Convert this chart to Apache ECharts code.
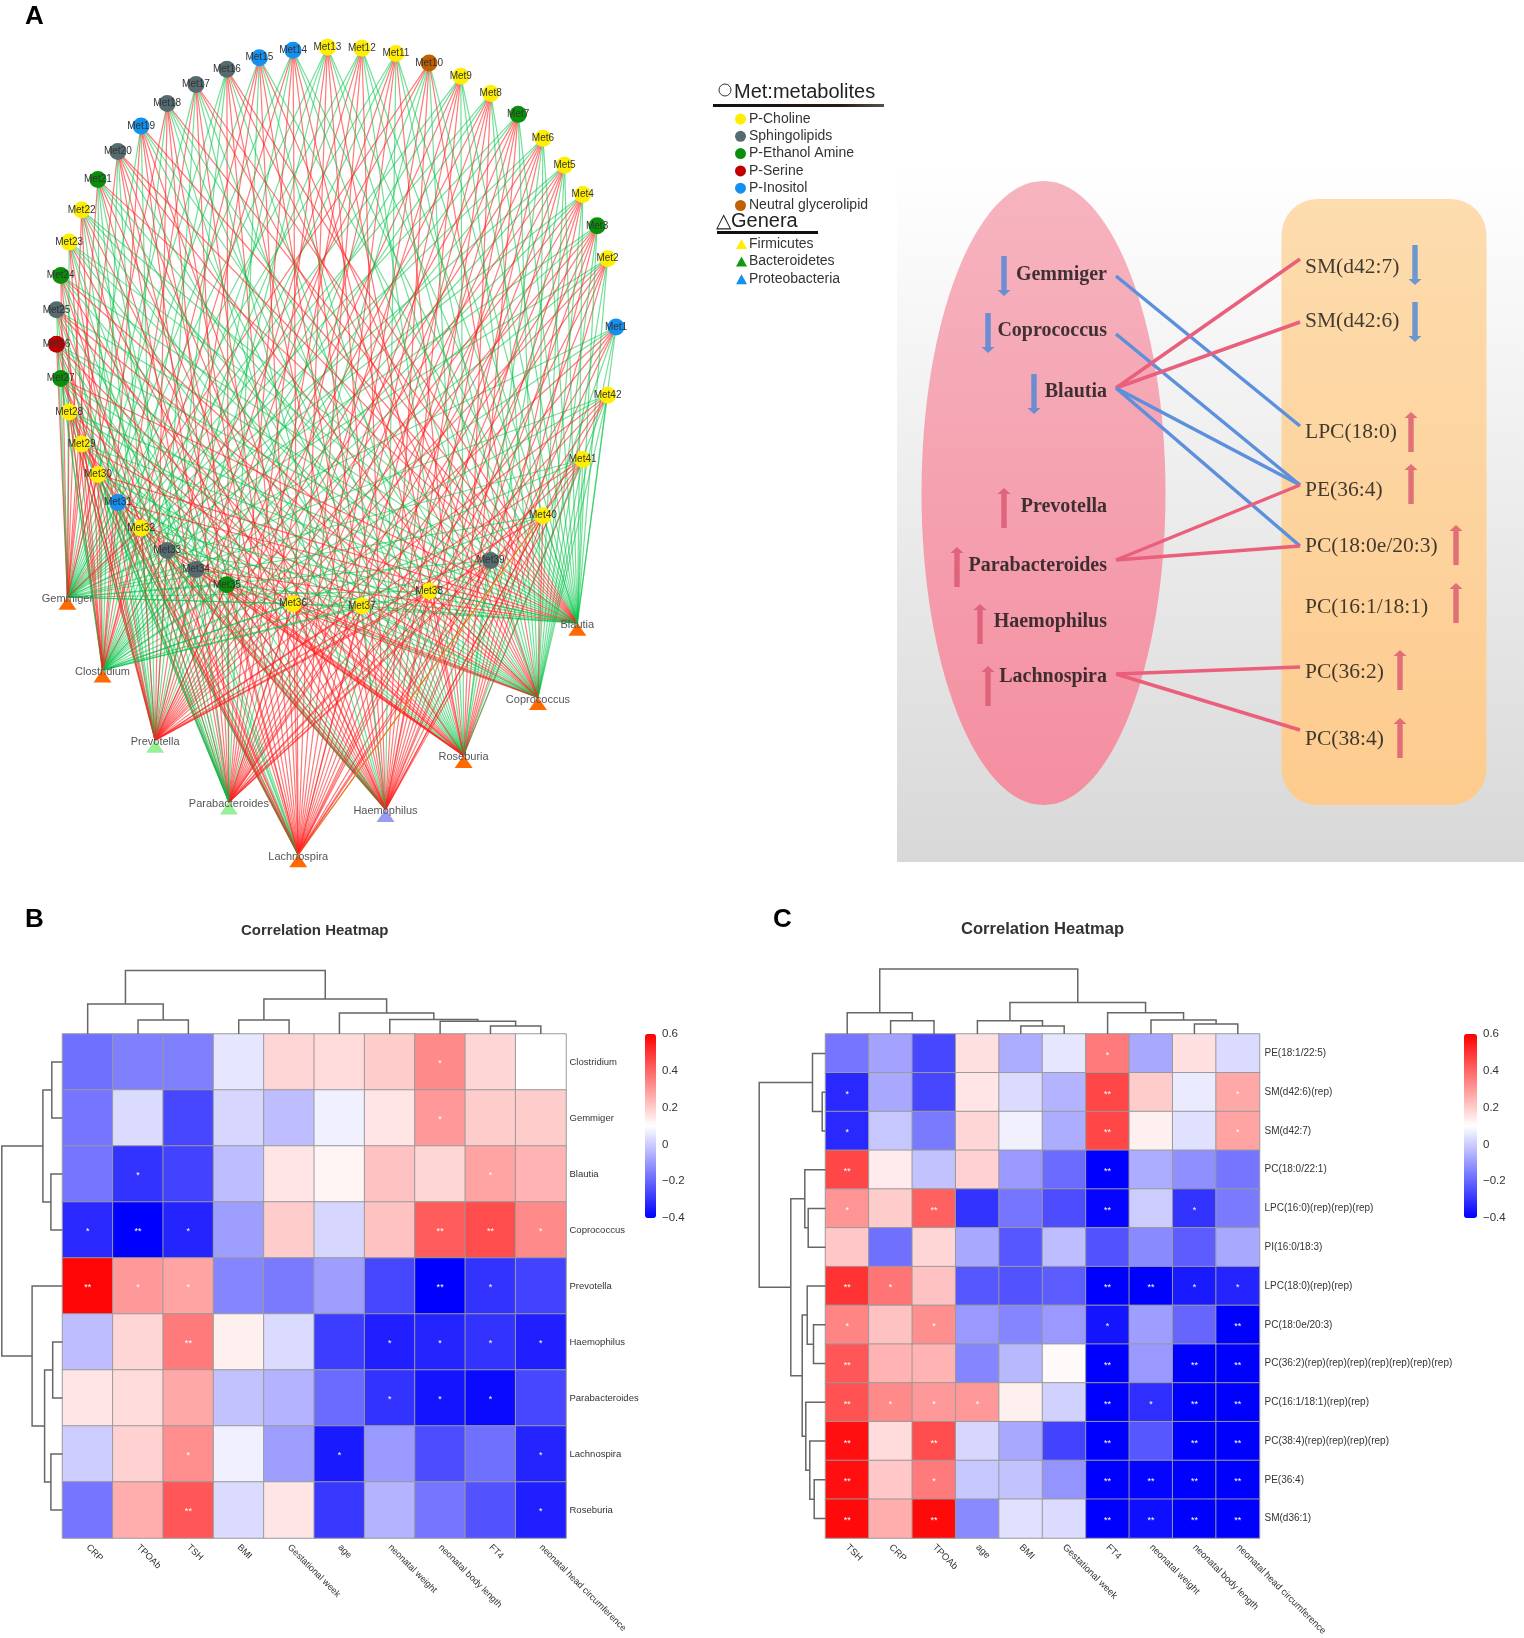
<!DOCTYPE html>
<html><head><meta charset="utf-8">
<style>html,body{margin:0;padding:0;background:#fff}#c{width:1524px;height:1638px;filter:blur(0.5px)}</style>
<script src="https://cdn.jsdelivr.net/npm/echarts@6/dist/echarts.min.js"></script>
</head><body><div id="c"></div>
<script>
/* ---------- Panel A: network ---------- */
const metClasses=['P-Choline','Sphingolipids','P-Ethanol Amine','P-Serine','P-Inositol','Neutral glycerolipid'];
const genusClasses=['Firmicutes','Bacteroidetes','Proteobacteria'];
// class of Met1..Met42 (index into metClasses)
const metClassOf=[4,0,2,0,0,0,2,0,0,5,0,0,0,4,4,1,1,1,4,1,2,0,0,2,1,3,2,0,0,0,4,0,1,1,2,0,0,0,1,0,0,0];
// ring slot of Met1..Met42 on a 51 slot ring
const metSlot=[0,2,3,4,5,6,7,8,9,10,11,12,13,14,15,16,17,18,19,20,21,22,23,24,25,26,27,28,29,30,31,32,33,34,35,37,39,41,43,45,47,49];
const metRadius=280;
const genera=['Gemmiger','Clostridium','Prevotella','Parabacteroides','Lachnospira','Haemophilus','Roseburia','Coprococcus','Blautia'];
const genusClassOf=[0,0,1,1,0,2,0,0,0];
const genusSlot=[31.9,33.4,34.9,36.45,37.67,39.08,40.6,42.3,43.8];
const genusRadius=[381,415,451,487,529,485,447,422,382];
// one string per metabolite, one letter per genus (order of genera): r positive, g negative, y other
const metEdges=["ggrrrrggg","ggrrrrrgg","ggrrrrrgg","ggrrrrrgg","ggrrrrggg","ggrrrrggg","ggrrrrrgg","ggrrrrrgg","ggrrrrggg","rrggrrgrg",
"ggrrrgrgg","ggrrrrggg","gggrrrrgg","grgrrrrgg","grrgrrgrg","gggrrrgrr","grgrrggrr","rgrrrgggr","grgrrrggr","rggrrrgrr",
"rgggrrggr","rrgrgrggg","grrggrggg","rrgrgrgrg","ggrgrgrrg","rgrgrgrgg","gggrrgrgr","rrrgrgrgg","rrrgrrgrg","rrrggrggr",
"grggrgrgr","rrrggrrgg","ggrgrgrrg","ggrggrrgr","ggrgrrrrg","ggrrrrrrg","ggrrrgrgg","ggrrrrrrg","ggrrrrgrr","ggrryrrrg","ggrrrrrgg","ggrrrrggg"];

/* ---------- Panel A: schematic ---------- */
const schemGenera=['Gemmiger','Coprococcus','Blautia','Prevotella','Parabacteroides','Haemophilus','Lachnospira'];
const schemGenusY=[275,331,392,507,566,622,677];
const schemGenusArrowX=[1004,988,1034,1004,957,980,988];
const schemGenusArrowY=[276,333,394,508,567,624,686];
const schemGenusDir=['d','d','d','u','u','u','u'];
const schemMets=['SM(d42:7)','SM(d42:6)','LPC(18:0)','PE(36:4)','PC(18:0e/20:3)','PC(16:1/18:1)','PC(36:2)','PC(38:4)'];
const schemMetY=[267,321,432,490,546,607,672,739];
const schemMetArrowX=[1415,1415,1411,1411,1456,1456,1400,1400];
const schemMetArrowY=[265,322,432,484,545,603,670,738];
const schemMetDir=['d','d','u','u','u','u','u','u'];
const schemLinks=[['Gemmiger','LPC(18:0)','b'],['Coprococcus','PE(36:4)','b'],['Blautia','SM(d42:7)','r'],['Blautia','SM(d42:6)','r'],
['Blautia','PE(36:4)','b'],['Blautia','PC(18:0e/20:3)','b'],['Parabacteroides','PE(36:4)','r'],['Parabacteroides','PC(18:0e/20:3)','r'],
['Lachnospira','PC(36:2)','r'],['Lachnospira','PC(38:4)','r']];
const genusAnchorY={Gemmiger:276,Coprococcus:334,Blautia:388,Parabacteroides:560,Lachnospira:674};
const metAnchorY={'SM(d42:7)':259,'SM(d42:6)':322,'LPC(18:0)':426,'PE(36:4)':485,'PC(18:0e/20:3)':546,'PC(36:2)':667,'PC(38:4)':730};

/* ---------- Panel B ---------- */
const colsB=['CRP','TPOAb','TSH','BMI','Gestational week','age','neonatal weight','neonatal body length','FT4','neonatal head circumference'];
const rowsB=['Clostridium','Gemmiger','Blautia','Coprococcus','Prevotella','Haemophilus','Parabacteroides','Lachnospira','Roseburia'];
const valsB=[
[-.18,-.15,-.15,.05,.18,.17,.2,.33,.18,.1],
[-.17,.03,-.26,.02,-.03,.07,.15,.3,.2,.2],
[-.17,-.3,-.27,-.03,.15,.12,.22,.18,.28,.25],
[-.32,-.4,-.33,-.09,.2,.02,.22,.42,.45,.33],
[.59,.3,.28,-.14,-.16,-.09,-.26,-.4,-.3,-.27],
[-.03,.18,.36,.13,.03,-.28,-.34,-.33,-.3,-.34],
[.15,.17,.27,-.02,-.05,-.19,-.3,-.36,-.38,-.26],
[0,.19,.32,.07,-.09,-.35,-.1,-.25,-.18,-.33],
[-.17,.26,.43,.03,.15,-.29,-.05,-.17,-.24,-.34]];
const sigB=[
['','','','','','','','*','',''],
['','','','','','','','*','',''],
['','*','','','','','','','*',''],
['*','**','*','','','','','**','**','*'],
['**','*','*','','','','','**','*',''],
['','','**','','','','*','*','*','*'],
['','','','','','','*','*','*',''],
['','','*','','','*','','','','*'],
['','','**','','','','','','','*']];
const topMergesB=[[1,2,14],[0,-1,30],[3,4,14],[8,9,8],[7,-4,12.7],[6,-5,14.4],[5,-6,21],[-3,-7,35],[-2,-8,63.5]];
const leftMergesB=[[0,1,10.7],[2,3,11.6],[-1,-2,19.6],[5,6,9.8],[7,8,11.6],[-4,-5,17.9],[4,-6,30.4],[-3,-7,60.7]];

/* ---------- Panel C ---------- */
const colsC=['TSH','CRP','TPOAb','age','BMI','Gestational week','FT4','neonatal weight','neonatal body length','neonatal head circumference'];
const rowsC=['PE(18:1/22:5)','SM(d42:6)(rep)','SM(d42:7)','PC(18:0/22:1)','LPC(16:0)(rep)(rep)(rep)','PI(16:0/18:3)','LPC(18:0)(rep)(rep)','PC(18:0e/20:3)','PC(36:2)(rep)(rep)(rep)(rep)(rep)(rep)(rep)','PC(16:1/18:1)(rep)(rep)','PC(38:4)(rep)(rep)(rep)(rep)','PE(36:4)','SM(d36:1)'];
const valsC=[
[-.17,-.08,-.26,.16,-.06,.05,.36,-.07,.16,.03],
[-.32,-.07,-.26,.15,.03,-.05,.46,.2,.06,.27],
[-.32,-.01,-.16,.18,.07,-.06,.46,.13,.04,.28],
[.46,.14,-.02,.19,-.1,-.19,-.4,-.06,-.12,-.17],
[.31,.2,.41,-.3,-.17,-.25,-.39,0,-.3,-.16],
[.21,-.18,.18,-.07,-.23,-.03,-.24,-.13,-.22,-.07],
[.5,.37,.22,-.23,-.24,-.22,-.4,-.4,-.35,-.33],
[.34,.22,.32,-.1,-.14,-.1,-.36,-.09,-.2,-.4],
[.43,.25,.25,-.14,-.04,.11,-.4,-.1,-.4,-.4],
[.44,.33,.3,.3,.13,.01,-.4,-.31,-.4,-.4],
[.57,.17,.45,.02,-.07,-.27,-.4,-.23,-.4,-.4],
[.57,.21,.36,-.01,-.02,-.11,-.4,-.39,-.4,-.4],
[.58,.26,.58,-.13,.04,.03,-.4,-.37,-.4,-.4]];
const sigC=[
['','','','','','','*','','',''],
['*','','','','','','**','','','*'],
['*','','','','','','**','','','*'],
['**','','','','','','**','','',''],
['*','','**','','','','**','','*',''],
['','','','','','','','','',''],
['**','*','','','','','**','**','*','*'],
['*','','*','','','','*','','','**'],
['**','','','','','','**','','**','**'],
['**','*','*','*','','','**','*','**','**'],
['**','','**','','','','**','','**','**'],
['**','','*','','','','**','**','**','**'],
['**','','**','','','','**','**','**','**']];
const topMergesC=[[1,2,13.2],[0,-1,21.2],[4,5,8],[3,-3,13.2],[8,9,9.9],[7,-5,14.1],[6,-6,21.2],[-4,-7,31.5],[-2,-8,65]];
const leftMergesC=[[1,2,3.3],[0,-1,13],[4,5,17.3],[3,-3,20.7],[7,8,12],[6,-5,18.3],[11,12,11.3],[10,-7,15.7],[9,-8,19.7],[-6,-9,23.3],[-4,-10,34.7],[-2,-11,66.3]];

const colorbarTicks={min:-0.4,max:0.6,step:0.2};

/* ---------- helpers ---------- */
function dendro(merges,horizontal){
  const pos=[],hs=[],out=[];
  const ref=n=>n>=0?{p:n+.5,h:0}:{p:pos[-n-1],h:hs[-n-1]};
  merges.forEach(m=>{
    const a=ref(m[0]),b=ref(m[1]),H=m[2];
    pos.push((a.p+b.p)/2);hs.push(H);
    const pts=[[a.p,a.h],[a.p,H],[b.p,H],[b.p,b.h]];
    out.push({coords:horizontal?pts.map(q=>[q[1],q[0]]):pts});
  });
  return out;
}
function heat(vals){const d=[];vals.forEach((r,y)=>r.forEach((v,x)=>d.push([x,y,v])));return d;}

const FONT='"Liberation Sans",Arial,sans-serif';
const SERIF='"Liberation Serif","Times New Roman",serif';
const catColor=['#ffee00','#566b70','#0a8f0a','#c00000','#1490f0','#c06000','#ff6a00','#96f096','#9a9af0'];
const legendColor={'Firmicutes':'#ffee00','Bacteroidetes':'#109a10','Proteobacteria':'#1490f0'};

/* network nodes + links */
const nodes=[];
metSlot.forEach((s,i)=>nodes.push({name:'Met'+(i+1),value:[metRadius,s],category:metClassOf[i],symbol:'circle',symbolSize:17,
  label:{show:true,position:'inside',fontSize:10,color:'#333',fontFamily:FONT}}));
genera.forEach((g,i)=>nodes.push({name:g,value:[genusRadius[i],genusSlot[i]],category:6+genusClassOf[i],symbol:'triangle',symbolSize:[18,13],symbolOffset:[0,6],
  label:{show:true,position:'inside',fontSize:11,color:'#555',fontFamily:FONT,offset:[0,-4]}}));
const edgeColor={r:'rgba(255,30,30,0.6)',g:'rgba(0,195,70,0.55)',y:'rgba(215,230,60,0.95)'};
const links=[];
metEdges.forEach((s,i)=>{for(let k=0;k<genera.length;k++)links.push({source:'Met'+(i+1),target:genera[k],lineStyle:{color:edgeColor[s[k]],width:1.2,opacity:1}});});

const UP='path://M6,0 L12,6 L8.5,6 L8.5,40 L3.5,40 L3.5,6 L0,6 Z';

function heatSeries(name,vals,sig,g){
  return {type:'heatmap',name,xAxisIndex:g,yAxisIndex:g,data:heat(vals),silent:true,
    itemStyle:{borderColor:'#9a9a9a',borderWidth:1},
    label:{show:true,color:'#fff',fontSize:9,fontFamily:FONT,offset:[0,2],formatter:p=>sig[p.data[1]][p.data[0]]}};
}
function dendroSeries(merges,horizontal,g){
  return {type:'lines',coordinateSystem:'cartesian2d',xAxisIndex:g,yAxisIndex:g,polyline:true,silent:true,
    lineStyle:{color:'#666',width:1.5,opacity:1},data:dendro(merges,horizontal)};
}
const hiddenX=(g,o)=>Object.assign({type:'value',gridIndex:g,show:false},o);
const hiddenY=(g,o)=>Object.assign({type:'value',gridIndex:g,show:false},o);
const catX=(g,d,fs)=>({type:'category',gridIndex:g,data:d,position:'bottom',axisTick:{show:false},axisLine:{show:false},splitLine:{show:false},
  axisLabel:{rotate:-45,interval:0,fontSize:fs,color:'#333',fontFamily:FONT,margin:8}});
const catY=(g,d,fs,m)=>({type:'category',gridIndex:g,data:d,position:'right',inverse:true,axisTick:{show:false},axisLine:{show:false},splitLine:{show:false},
  axisLabel:{interval:0,fontSize:fs,color:'#333',fontFamily:FONT,margin:m}});
const barY=g=>({type:'value',gridIndex:g,position:'right',min:colorbarTicks.min,max:colorbarTicks.max,interval:colorbarTicks.step,
  axisLine:{show:false},axisTick:{show:false},splitLine:{show:false},
  axisLabel:{fontSize:11.5,color:'#333',fontFamily:FONT,margin:6,formatter:v=>{const t=Math.round(v*10)/10;return t<0?'\u2212'+Math.abs(t):String(t);}}});

const titleText=(text,left,top,size,weight,color)=>({text,left,top,padding:0,textStyle:{fontSize:size,fontWeight:weight,color:color||'#000',fontFamily:FONT}});
const gridBox=(left,top,width,height)=>({left,top,width,height,outerBoundsMode:'none',containLabel:false});

const option={
  animation:false,backgroundColor:'#fff',
  title:[
    titleText('A',25,4,26,'bold'),titleText('B',25,907,26,'bold'),titleText('C',773,907,26,'bold'),
    titleText('Correlation Heatmap',241,923,15,'bold','#333'),titleText('Correlation Heatmap',961,921,16.6,'bold','#333'),
    titleText('Met:metabolites',734,82,20,'normal','#222'),titleText('\u25B3Genera',716,211,20,'normal','#222')
  ],
  legend:[
    {left:735,top:112,orient:'vertical',itemWidth:11,itemHeight:11,itemGap:3.3,padding:0,selectedMode:false,textStyle:{fontSize:14,color:'#333',fontFamily:FONT,padding:[0,0,0,-2]},
     data:metClasses.map((n,i)=>({name:n,icon:'circle',itemStyle:{color:catColor[i]}}))},
    {left:736,top:237,orient:'vertical',itemWidth:11,itemHeight:10,itemGap:3.6,padding:0,selectedMode:false,textStyle:{fontSize:14,color:'#333',fontFamily:FONT,padding:[0,0,0,-3]},
     data:genusClasses.map(n=>({name:n,icon:'triangle',itemStyle:{color:legendColor[n]}}))}
  ],
  polar:{center:[336,327],radius:600},
  angleAxis:{type:'value',min:0,max:51,startAngle:0,clockwise:false,show:false},
  radiusAxis:{type:'value',min:0,max:600,show:false},
  grid:[
    gridBox(62.5,1034,503.5,504),
    gridBox(62.5,964,503.5,70),
    gridBox(0.5,1034,62,504),
    gridBox(645,1034,11,184),
    gridBox(825.5,1034,434,504),
    gridBox(825.5,964,434,70),
    gridBox(757.5,1034,68,504),
    gridBox(1464,1034,13,184),
    gridBox(897,163,627,699)
  ],
  xAxis:[catX(0,colsB,9.2),hiddenX(1,{min:0,max:colsB.length}),hiddenX(2,{min:0,max:62,inverse:true}),hiddenX(3,{min:0,max:1}),
         catX(4,colsC,9.5),hiddenX(5,{min:0,max:colsC.length}),hiddenX(6,{min:0,max:68,inverse:true}),hiddenX(7,{min:0,max:1}),
         hiddenX(8,{min:897,max:1524})],
  yAxis:[catY(0,rowsB,9.5,3.5),hiddenY(1,{min:0,max:70}),hiddenY(2,{min:0,max:rowsB.length,inverse:true}),barY(3),
         catY(4,rowsC,10,5),hiddenY(5,{min:0,max:70}),hiddenY(6,{min:0,max:rowsC.length,inverse:true}),barY(7),
         hiddenY(8,{min:163,max:862,inverse:true})],
  visualMap:[
    {type:'continuous',seriesIndex:1,dimension:2,min:-0.4,max:0.6,left:645,top:1034,itemWidth:11,itemHeight:184,calculable:false,hoverLink:false,text:null,padding:0,inRange:{color:['#0000ff','#ffffff','#ff0000']},textStyle:{fontSize:0}},
    {type:'continuous',seriesIndex:2,dimension:2,min:-0.4,max:0.6,left:1464,top:1034,itemWidth:13,itemHeight:184,calculable:false,hoverLink:false,text:null,padding:0,inRange:{color:['#0000ff','#ffffff','#ff0000']},textStyle:{fontSize:0}}
  ],
  graphic:{elements:[
    {type:'rect',z:-10,silent:true,shape:{x:897,y:163,width:627,height:699},style:{fill:{type:'linear',x:0,y:0,x2:0,y2:1,colorStops:[{offset:0,color:'#ffffff'},{offset:1,color:'#d8d8d8'}]}}},
    {type:'ellipse',z:-9,silent:true,shape:{cx:1043.5,cy:493,rx:122,ry:312},style:{fill:{type:'linear',x:0,y:0,x2:0,y2:1,colorStops:[{offset:0,color:'#f6b4bf'},{offset:1,color:'#f48ea0'}]}}},
    {type:'rect',z:-9,silent:true,shape:{x:1281.5,y:199,width:205,height:606,r:36},style:{fill:{type:'linear',x:0,y:0,x2:0,y2:1,colorStops:[{offset:0,color:'#fddcae'},{offset:1,color:'#fdcb8e'}]}}},
    {type:'rect',z:-9,silent:true,shape:{x:713,y:104,width:171,height:3},style:{fill:{type:'linear',x:0,y:0,x2:1,y2:0,colorStops:[{offset:0,color:'#111'},{offset:.75,color:'#2a1a12'},{offset:1,color:'#554'}]}}},
    {type:'rect',z:-9,silent:true,shape:{x:717,y:231,width:101,height:3},style:{fill:'#111'}},
    {type:'circle',z:-9,silent:true,shape:{cx:725,cy:90,r:6},style:{fill:'#fff',stroke:'#333',lineWidth:1}}
  ]},
  series:[
    {type:'graph',coordinateSystem:'polar',polarIndex:0,layout:'none',silent:true,data:nodes,links:links,
     categories:metClasses.concat(genusClasses).map((n,i)=>({name:n,itemStyle:{color:catColor[i]}})),
     edgeSymbol:['none','none'],lineStyle:{curveness:0},z:3},
    heatSeries('B',valsB,sigB,0),
    heatSeries('C',valsC,sigC,4),
    dendroSeries(topMergesB,false,1),dendroSeries(leftMergesB,true,2),
    dendroSeries(topMergesC,false,5),dendroSeries(leftMergesC,true,6),
    {type:'lines',coordinateSystem:'cartesian2d',xAxisIndex:8,yAxisIndex:8,silent:true,z:3,
     data:schemLinks.map(l=>({coords:[[1116,genusAnchorY[l[0]]],[1300,metAnchorY[l[1]]]],lineStyle:{color:l[2]==='b'?'#5c90dc':'#ea5f7c',width:3.5,opacity:1}}))},
    {type:'scatter',xAxisIndex:8,yAxisIndex:8,silent:true,z:4,symbolSize:0,
     data:schemGenera.map((n,i)=>({name:n,value:[1107,schemGenusY[i]]})),
     label:{show:true,position:'left',distance:0,formatter:'{b}',fontFamily:SERIF,fontWeight:'bold',fontSize:20,color:'#111'}},
    {type:'scatter',xAxisIndex:8,yAxisIndex:8,silent:true,z:4,symbolSize:0,
     data:schemMets.map((n,i)=>({name:n,value:[1305,schemMetY[i]]})),
     label:{show:true,position:'right',distance:0,formatter:'{b}',fontFamily:SERIF,fontSize:21.5,color:'#111'}},
    {type:'scatter',xAxisIndex:8,yAxisIndex:8,silent:true,z:4,symbol:UP,symbolSize:[13,40],
     data:schemGenera.map((n,i)=>({value:[schemGenusArrowX[i],schemGenusArrowY[i]],symbolRotate:schemGenusDir[i]==='d'?180:0,itemStyle:{color:schemGenusDir[i]==='d'?'#4a86d8':'#d9566f'}}))},
    {type:'scatter',xAxisIndex:8,yAxisIndex:8,silent:true,z:4,symbol:UP,symbolSize:[13,40],
     data:schemMets.map((n,i)=>({value:[schemMetArrowX[i],schemMetArrowY[i]],symbolRotate:schemMetDir[i]==='d'?180:0,itemStyle:{color:schemMetDir[i]==='d'?'#4a86d8':'#d9566f'}}))}
  ]
};
const chart=echarts.init(document.getElementById('c'),null,{renderer:'canvas',width:1524,height:1638});
chart.setOption(option);
</script></body></html>
